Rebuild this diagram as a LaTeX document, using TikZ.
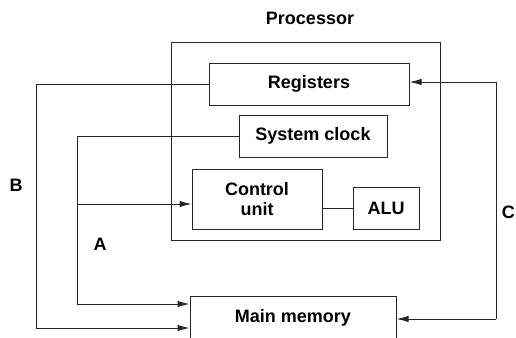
\documentclass[tikz,border=0pt]{standalone}
\usepackage{fontspec}
\setmainfont{Liberation Sans}
\usetikzlibrary{arrows.meta}
\begin{document}
\begin{tikzpicture}[x=1pt,y=-1pt,
  box/.style={draw=black!85,line width=1pt,rectangle,inner sep=0pt,font=\bfseries\fontsize{18}{19.5}\selectfont,align=center},
  lbl/.style={font=\bfseries\fontsize{18}{19.5}\selectfont,inner sep=0pt},
  wire/.style={draw=black!85,line width=1pt},
  arr/.style={wire,-{Latex[length=12pt,width=6.5pt]}}]
\clip (0,0) rectangle (516,337);
\fill[white] (0,0) rectangle (516,337);
\node[box,minimum width=269,minimum height=197] (proc) at (305.5,141.5) {};
\node[lbl] (ptitle) at (310,18) {Processor};
\node[box,minimum width=200,minimum height=42] (reg) at (309,84) {Registers};
\node[box,minimum width=148,minimum height=42] (clk) at (313,136) {System clock};
\node[box,minimum width=130,minimum height=60] (cu) at (257,199) {Control\\unit};
\node[box,minimum width=66,minimum height=42] (alu) at (386,208) {ALU};
\node[box,minimum width=206,minimum height=44] (mem) at (293,318) {Main memory};
\node[lbl] (lb) at (16,185) {B};
\node[lbl] (la) at (100,244) {A};
\node[lbl,anchor=east] (lc) at (515,212) {C};
\coordinate (b1) at (36,84);
\coordinate (b2) at (36,328);
\coordinate (a1) at (77,136);
\coordinate (a2) at (77,204);
\coordinate (a3) at (77,304);
\coordinate (c1) at (496,319);
\coordinate (c2) at (496,82);
\draw[arr] (reg.west) -- (b1) -- (b2) -- (b2 -| mem.west);
\draw[arr] (clk.west) -- (a1) -- (a3) -- (a3 -| mem.west);
\draw[arr] (a2) -- (a2 -| cu.west);
\draw[arr] (c1) -- (c1 -| mem.east);
\draw[arr] (c1) -- (c2) -- (c2 -| reg.east);
\draw[wire] (alu.west) -- (alu.west -| cu.east);
\end{tikzpicture}
\end{document}
